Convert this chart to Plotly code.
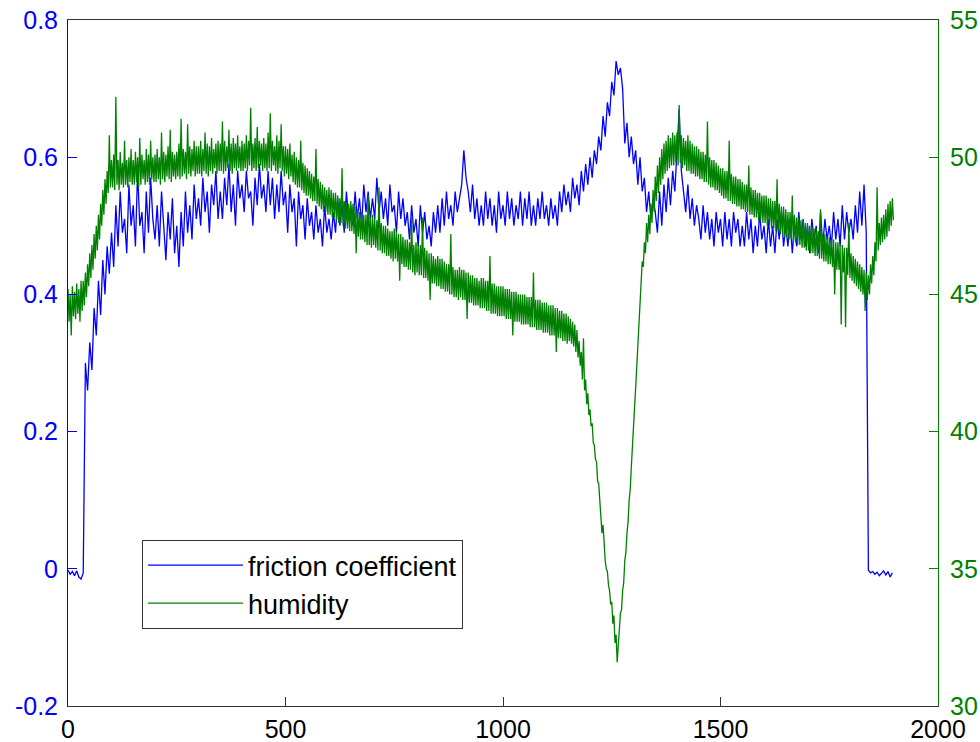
import plotly.graph_objects as go

# ---------------- data ----------------
# friction coefficient, sampled every 5 s
friction_time = list(range(0, 1900, 5))  # 0 .. 1895
friction_coefficient = [
    -0.002, -0.008, -0.004, -0.010, -0.003, -0.012, -0.015, -0.006, 0.30, 0.26,   # 0-45
    0.33, 0.29, 0.38, 0.34, 0.42, 0.37, 0.45, 0.40, 0.47, 0.43,                   # 50-95
    0.49, 0.44, 0.53, 0.47, 0.55, 0.49, 0.51, 0.46, 0.56, 0.50,                   # 100
    0.53, 0.47, 0.58, 0.50, 0.52, 0.46, 0.55, 0.49, 0.57, 0.51,                   # 150
    0.48, 0.53, 0.47, 0.55, 0.50, 0.45, 0.52, 0.48, 0.54, 0.46,                   # 200
    0.50, 0.44, 0.52, 0.47, 0.55, 0.49, 0.53, 0.48, 0.56, 0.51,                   # 250
    0.54, 0.50, 0.57, 0.52, 0.55, 0.49, 0.56, 0.53, 0.58, 0.51,                   # 300
    0.55, 0.51, 0.57, 0.53, 0.59, 0.52, 0.56, 0.50, 0.58, 0.54,                   # 350
    0.56, 0.52, 0.58, 0.54, 0.55, 0.50, 0.57, 0.53, 0.59, 0.54,                   # 400
    0.56, 0.52, 0.58, 0.53, 0.57, 0.51, 0.56, 0.52, 0.58, 0.53,                   # 450
    0.55, 0.49, 0.56, 0.52, 0.54, 0.47, 0.55, 0.51, 0.53, 0.48,                   # 500
    0.54, 0.50, 0.52, 0.48, 0.53, 0.49, 0.51, 0.47, 0.53, 0.49,                   # 550
    0.51, 0.48, 0.52, 0.49, 0.54, 0.50, 0.53, 0.49, 0.55, 0.51,                   # 600
    0.53, 0.50, 0.55, 0.51, 0.54, 0.50, 0.56, 0.52, 0.55, 0.51,                   # 650
    0.54, 0.51, 0.57, 0.52, 0.55, 0.51, 0.54, 0.50, 0.56, 0.52,                   # 700
    0.53, 0.49, 0.55, 0.51, 0.54, 0.50, 0.52, 0.48, 0.53, 0.49,                   # 750
    0.51, 0.47, 0.53, 0.49, 0.52, 0.48, 0.50, 0.47, 0.52, 0.49,                   # 800
    0.53, 0.49, 0.54, 0.50, 0.55, 0.51, 0.53, 0.50, 0.55, 0.52,                   # 850
    0.54, 0.56, 0.61, 0.57, 0.55, 0.52, 0.56, 0.51, 0.54, 0.50,                   # 900
    0.53, 0.50, 0.55, 0.51, 0.54, 0.50, 0.53, 0.49, 0.55, 0.51,                   # 950
    0.53, 0.50, 0.55, 0.51, 0.54, 0.50, 0.53, 0.51, 0.55, 0.50,                   # 1000
    0.54, 0.51, 0.55, 0.50, 0.53, 0.50, 0.54, 0.51, 0.55, 0.51,                   # 1050
    0.53, 0.50, 0.54, 0.51, 0.53, 0.50, 0.55, 0.52, 0.56, 0.53,                   # 1100
    0.55, 0.52, 0.57, 0.54, 0.56, 0.53, 0.58, 0.55, 0.59, 0.56,                   # 1150
    0.60, 0.57, 0.61, 0.59, 0.63, 0.61, 0.66, 0.63, 0.68, 0.66,                   # 1200
    0.71, 0.69, 0.74, 0.72, 0.73, 0.70, 0.62, 0.65, 0.60, 0.63,                   # 1250
    0.59, 0.61, 0.56, 0.60, 0.55, 0.57, 0.52, 0.55, 0.51, 0.54,                   # 1300
    0.52, 0.49, 0.55, 0.50, 0.56, 0.52, 0.57, 0.53, 0.58, 0.55,                   # 1350
    0.61, 0.67, 0.58, 0.55, 0.52, 0.56, 0.51, 0.54, 0.50, 0.53,                   # 1400
    0.51, 0.48, 0.53, 0.49, 0.52, 0.48, 0.51, 0.47, 0.52, 0.49,                   # 1450
    0.51, 0.47, 0.52, 0.48, 0.51, 0.47, 0.52, 0.49, 0.51, 0.47,                   # 1500
    0.50, 0.47, 0.52, 0.48, 0.51, 0.46, 0.50, 0.47, 0.52, 0.48,                   # 1550
    0.50, 0.46, 0.51, 0.47, 0.50, 0.46, 0.51, 0.48, 0.52, 0.47,                   # 1600
    0.50, 0.47, 0.51, 0.46, 0.50, 0.47, 0.52, 0.48, 0.51, 0.47,                   # 1650
    0.50, 0.46, 0.51, 0.48, 0.50, 0.46, 0.52, 0.47, 0.51, 0.48,                   # 1700
    0.50, 0.47, 0.52, 0.48, 0.51, 0.47, 0.53, 0.48, 0.52, 0.49,                   # 1750
    0.51, 0.48, 0.53, 0.49, 0.55, 0.50, 0.56, 0.49, -0.002, -0.006,               # 1800
    -0.004, -0.008, -0.005, -0.010, -0.006, -0.003, -0.009, -0.004, -0.012, -0.006,  # 1850
]

# humidity, sampled every 2.5 s (20 samples per 50 s row)
humidity_time = [i * 2.5 for i in range(760)]  # 0 .. 1897.5
humidity = [
    45.2, 44.0, 45.0, 43.5, 45.3, 44.2, 45.1, 44.1, 45.4, 44.3, 45.2, 44.0, 45.5, 44.4, 45.5, 44.6, 45.8, 44.9, 46.1, 45.3,  # 0
    46.5, 45.6, 46.8, 45.9, 47.2, 46.3, 47.5, 46.6, 47.9, 47.0, 48.3, 47.5, 48.8, 47.9, 49.2, 48.3, 49.5, 48.7, 50.8, 48.9,  # 50
    49.9, 48.9, 50.1, 48.8, 52.2, 49.0, 49.9, 48.8, 50.2, 49.0, 49.8, 48.9, 50.6, 49.0, 49.9, 48.9, 50.0, 49.1, 50.3, 49.0,  # 100
    49.9, 49.0, 50.2, 49.1, 50.0, 48.9, 50.7, 49.0, 50.1, 49.2, 49.9, 49.0, 50.3, 49.1, 50.1, 49.0, 50.6, 49.2, 50.0, 49.1,  # 150
    50.1, 49.1, 50.3, 49.2, 50.0, 49.0, 50.9, 49.2, 50.2, 49.1, 50.1, 49.3, 50.4, 49.2, 51.0, 49.1, 50.2, 49.3, 50.1, 49.2,  # 200
    50.2, 49.3, 50.5, 49.2, 51.4, 49.3, 50.3, 49.4, 50.2, 49.2, 51.2, 49.4, 50.4, 49.3, 50.3, 49.5, 50.6, 49.3, 50.4, 49.4,  # 250
    50.4, 49.4, 50.6, 49.3, 50.3, 49.5, 50.9, 49.4, 50.5, 49.3, 50.4, 49.5, 50.7, 49.4, 50.3, 49.6, 50.5, 49.4, 50.6, 49.5,  # 300
    50.5, 49.5, 51.3, 49.4, 50.6, 49.5, 50.4, 49.6, 51.0, 49.5, 50.5, 49.4, 50.7, 49.6, 50.5, 49.5, 50.8, 49.6, 50.4, 49.5,  # 350
    50.6, 49.5, 50.5, 49.6, 50.8, 49.5, 50.6, 49.7, 51.8, 49.5, 50.5, 49.6, 50.7, 49.5, 51.1, 49.6, 50.6, 49.7, 50.5, 49.5,  # 400
    50.7, 49.6, 50.5, 49.5, 50.9, 49.6, 51.6, 49.5, 50.6, 49.7, 50.4, 49.5, 50.8, 49.4, 50.6, 49.6, 51.2, 49.5, 50.4, 49.3,  # 450
    50.4, 49.4, 50.3, 49.2, 50.5, 49.3, 50.1, 49.1, 50.2, 49.0, 50.0, 48.9, 49.9, 48.9, 50.6, 48.8, 49.8, 48.7, 49.7, 48.6,  # 500
    49.6, 48.6, 49.5, 48.5, 49.4, 48.4, 49.3, 48.4, 50.3, 48.3, 49.2, 48.2, 49.1, 48.1, 49.0, 48.0, 48.9, 48.0, 48.8, 47.9,  # 550
    48.9, 47.9, 48.8, 47.8, 48.7, 47.8, 48.7, 47.7, 48.6, 47.6, 48.5, 47.6, 49.6, 47.5, 48.4, 47.4, 48.3, 47.4, 48.3, 47.3,  # 600
    48.4, 47.3, 48.3, 47.2, 48.2, 46.5, 48.1, 47.1, 48.0, 47.0, 48.0, 47.0, 47.9, 46.9, 47.9, 46.8, 48.6, 46.8, 47.8, 46.7,  # 650
    47.9, 46.8, 47.8, 46.7, 47.7, 46.6, 48.9, 46.6, 47.6, 46.5, 47.5, 46.5, 47.5, 46.4, 47.4, 46.4, 47.3, 46.3, 47.3, 46.2,  # 700
    47.4, 46.3, 47.3, 46.2, 47.2, 45.5, 47.2, 46.1, 47.1, 46.0, 47.0, 46.0, 47.0, 45.9, 46.9, 45.9, 47.8, 45.8, 46.8, 45.7,  # 750
    46.9, 45.8, 46.8, 45.7, 46.8, 45.7, 47.8, 45.6, 46.7, 45.6, 46.6, 45.5, 46.5, 44.8, 46.5, 45.4, 46.4, 45.4, 46.3, 45.3,  # 800
    46.4, 45.3, 46.3, 45.2, 46.3, 45.2, 46.2, 45.1, 46.1, 45.1, 46.1, 45.0, 47.2, 45.0, 46.0, 44.9, 45.9, 44.9, 45.9, 44.8,  # 850
    46.0, 44.9, 45.9, 44.8, 45.9, 44.8, 45.8, 44.1, 45.8, 44.7, 45.7, 44.7, 45.7, 44.6, 45.6, 44.6, 45.6, 44.6, 45.5, 44.5,  # 900
    45.6, 44.5, 45.6, 44.5, 45.5, 44.4, 45.5, 44.4, 46.4, 44.3, 45.4, 44.3, 45.4, 44.3, 45.3, 44.2, 45.3, 44.2, 45.3, 44.2,  # 950
    45.3, 44.2, 45.2, 44.1, 45.2, 44.1, 45.2, 44.1, 45.1, 43.5, 45.1, 44.0, 45.1, 44.0, 45.0, 44.0, 45.0, 43.9, 45.0, 43.9,  # 1000
    45.0, 43.9, 44.9, 43.9, 44.9, 43.8, 44.9, 43.8, 45.8, 43.8, 44.8, 43.7, 44.8, 43.7, 44.8, 43.7, 44.7, 43.6, 44.7, 43.6,  # 1050
    44.7, 43.6, 44.6, 43.5, 44.6, 43.5, 44.6, 43.5, 44.5, 42.9, 44.5, 43.4, 44.4, 43.4, 44.4, 43.3, 44.3, 43.3, 44.3, 43.2,  # 1100
    44.2, 43.3, 44.1, 43.2, 44.0, 43.1, 43.9, 42.9, 43.7, 42.7, 43.3, 42.4, 42.9, 41.9, 43.4, 41.5, 41.9, 41.0, 41.4, 40.6,  # 1150
    40.8, 40.2, 40.3, 39.6, 39.5, 39.0, 38.9, 38.2, 38.1, 37.4, 36.9, 36.3, 36.6, 35.8, 35.3, 35.0, 34.9, 34.4, 34.2, 33.7,  # 1200
    33.8, 33.0, 33.3, 32.3, 32.6, 31.6, 32.5, 32.8, 33.4, 33.5, 34.2, 34.5, 35.3, 35.6, 36.3, 36.7, 37.5, 37.9, 38.7, 39.3,  # 1250
    40.3, 40.9, 41.6, 42.4, 43.3, 44.0, 44.9, 45.3, 46.2, 46.0, 46.9, 46.5, 47.6, 46.9, 47.9, 47.2, 48.3, 47.6, 48.8, 48.0,  # 1300
    49.3, 48.4, 49.7, 48.7, 50.0, 49.0, 50.3, 49.2, 50.5, 49.4, 50.6, 49.5, 50.8, 49.6, 50.7, 49.7, 50.9, 49.7, 50.8, 49.8,  # 1350
    50.9, 49.7, 51.9, 49.8, 50.8, 49.6, 50.7, 49.7, 50.6, 49.5, 50.8, 49.5, 50.6, 49.4, 50.5, 49.4, 50.4, 49.3, 50.4, 49.3,  # 1400
    50.3, 49.2, 50.2, 49.2, 50.2, 49.1, 50.1, 49.1, 51.3, 49.0, 50.0, 48.9, 49.9, 48.9, 49.9, 48.8, 49.8, 48.8, 49.7, 48.7,  # 1450
    49.6, 48.6, 49.6, 48.5, 49.5, 48.5, 49.5, 48.4, 50.6, 48.4, 49.4, 48.3, 49.3, 48.3, 49.3, 48.2, 49.2, 48.2, 49.2, 48.1,  # 1500
    49.1, 48.1, 49.0, 48.0, 49.0, 48.0, 49.7, 47.9, 48.9, 47.9, 48.8, 47.8, 48.8, 47.8, 48.7, 47.7, 48.7, 47.7, 48.6, 47.6,  # 1550
    48.6, 47.6, 48.6, 47.5, 48.5, 47.5, 48.5, 47.4, 48.4, 47.4, 48.4, 47.3, 49.2, 47.3, 48.3, 47.2, 48.2, 47.2, 48.2, 47.1,  # 1600
    48.1, 47.1, 48.0, 47.0, 48.0, 47.0, 48.6, 46.9, 47.9, 46.9, 47.8, 46.8, 47.8, 46.8, 47.7, 46.7, 47.7, 46.7, 47.6, 46.6,  # 1650
    47.6, 46.6, 47.5, 46.5, 47.5, 46.5, 47.4, 46.4, 47.4, 46.4, 47.3, 46.3, 48.1, 46.3, 47.2, 46.2, 47.2, 46.2, 47.1, 46.1,  # 1700
    47.1, 46.1, 47.0, 46.0, 47.0, 45.0, 46.9, 45.9, 46.9, 45.9, 46.8, 43.9, 46.8, 45.8, 46.7, 43.8, 46.7, 45.7, 47.6, 45.6,  # 1750
    46.5, 45.5, 46.4, 45.4, 46.3, 45.3, 46.2, 45.2, 46.1, 45.1, 46.0, 45.0, 45.9, 44.4, 45.8, 44.8, 45.7, 45.0, 46.1, 45.4,  # 1800
    46.4, 45.7, 46.9, 46.2, 48.9, 46.6, 47.6, 46.8, 47.8, 46.9, 47.9, 47.0, 48.1, 47.1, 48.3, 47.3, 48.4, 47.5, 48.5, 47.7,  # 1850
]

x_ticks = [0, 500, 1000, 1500, 2000]
x_tick_labels = ["0", "500", "1000", "1500", "2000"]
friction_ticks = [-0.2, 0, 0.2, 0.4, 0.6, 0.8]
friction_tick_labels = ["-0.2", "0", "0.2", "0.4", "0.6", "0.8"]
humidity_ticks = [30, 35, 40, 45, 50, 55]
humidity_tick_labels = ["30", "35", "40", "45", "50", "55"]

# ---------------- figure ----------------
BLUE = "#0000FF"
GREEN = "#008000"
FONT = "Liberation Sans, Arial, Helvetica, sans-serif"

fig = go.Figure()
fig.add_trace(go.Scatter(
    x=friction_time, y=friction_coefficient, name="friction coefficient",
    mode="lines", line=dict(color=BLUE, width=1.3), yaxis="y",
))
fig.add_trace(go.Scatter(
    x=humidity_time, y=humidity, name="humidity",
    mode="lines", line=dict(color=GREEN, width=1.3), yaxis="y2",
))

fig.update_layout(
    width=980, height=742,
    margin=dict(l=68, r=42, t=20, b=36),
    paper_bgcolor="white", plot_bgcolor="white",
    font=dict(family=FONT, size=25, color="black"),
    showlegend=True,
    legend=dict(
        x=0.085, y=0.242, xanchor="left", yanchor="top",
        bgcolor="white", bordercolor="#333333", borderwidth=1,
        font=dict(size=27, color="black"),
        itemwidth=95, tracegroupgap=0,
    ),
    xaxis=dict(
        range=[0, 2000], tickvals=x_ticks, ticktext=x_tick_labels,
        showline=True, linecolor="#333333", linewidth=1, mirror=True,
        ticks="inside", ticklen=9, tickcolor="#333333",
        showgrid=False, zeroline=False, automargin=False,
        tickfont=dict(size=25, color="black"),
        ticklabelstandoff=1, ticklabeloverflow="allow",
    ),
    yaxis=dict(
        range=[-0.2, 0.8], tickvals=friction_ticks, ticktext=friction_tick_labels,
        showline=True, linecolor=BLUE, linewidth=1,
        ticks="inside", ticklen=9, tickcolor=BLUE,
        showgrid=False, zeroline=False, automargin=False,
        tickfont=dict(size=25, color=BLUE),
        ticklabelstandoff=4, ticklabeloverflow="allow",
    ),
    yaxis2=dict(
        range=[30, 55], tickvals=humidity_ticks, ticktext=humidity_tick_labels,
        overlaying="y", side="right",
        showline=True, linecolor=GREEN, linewidth=1,
        ticks="inside", ticklen=9, tickcolor=GREEN,
        showgrid=False, zeroline=False, automargin=False,
        tickfont=dict(size=25, color=GREEN),
        ticklabelstandoff=6, ticklabeloverflow="allow",
    ),
)

# remove the browser's default 8 px body margin so the figure fills the window
fig.write_html(
    "out.html",
    config={"displayModeBar": False},
    post_script="document.body.style.margin='0px';document.body.style.overflow='hidden';",
)
